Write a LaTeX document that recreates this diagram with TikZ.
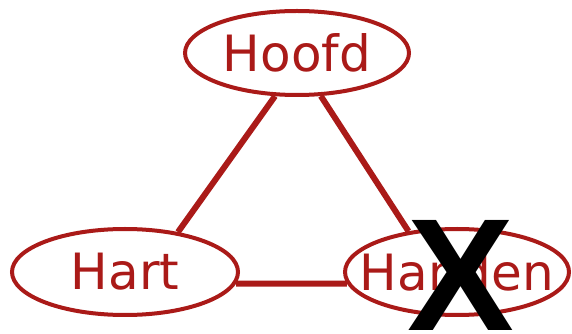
\documentclass[tikz,border=0pt]{standalone}
\usepackage{fontspec}
\setmainfont{DejaVu Sans}
\newfontfamily\xfont{Liberation Sans}
\usetikzlibrary{shapes.geometric}
\definecolor{dred}{RGB}{170,26,24}
\begin{document}
\begin{tikzpicture}[x=1pt,y=1pt,
  blob/.style={ellipse,draw=dred,line width=4pt,fill=white,inner sep=0pt,
    text=dred,font=\fontsize{50}{51}\selectfont,minimum width=224pt,minimum height=86pt},
  link/.style={draw=dred,line width=6pt}]
\useasboundingbox (0,0) rectangle (572,334);
\node[blob,minimum height=84pt] (hoofd) at (297,281) {Hoofd};
\node[blob,minimum width=226pt] (hart) at (125,62) {Hart};
\node[blob,inner xsep=-30pt] (handen) at (457,62) {Handen};
\draw[link] (hoofd.243) -- (hart.37);
\draw[link] (hoofd.299.5) -- (handen.140);
\draw[link] (hart.-6.5) -- (handen.186.5);
\node[inner sep=0pt,font=\xfont\bfseries\fontsize{160}{160}\selectfont] (x) at (461,59) {X};
\end{tikzpicture}
\end{document}
